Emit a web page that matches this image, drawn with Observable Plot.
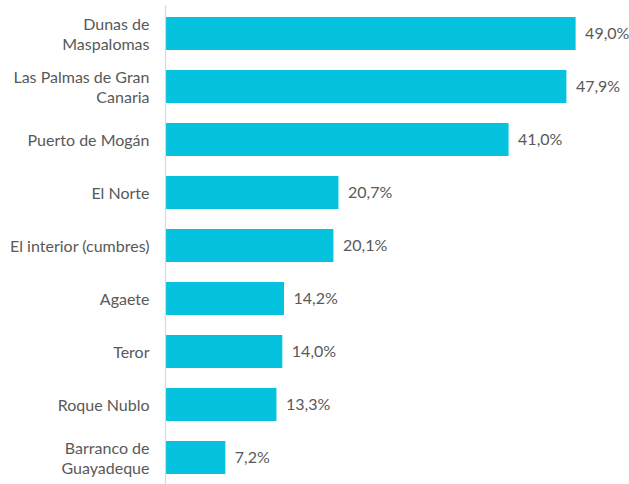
<!DOCTYPE html>
<html>
<head>
<meta charset="utf-8">
<script src="https://cdn.jsdelivr.net/npm/d3@7"></script>
<script src="https://cdn.jsdelivr.net/npm/@observablehq/plot@0.6"></script>
<style>
  html, body { margin: 0; padding: 0; background: #ffffff; }
  #chart svg { display: block; }
</style>
</head>
<body>
<div id="chart"></div>
<script>
const categories = [
  "Dunas de Maspalomas",
  "Las Palmas de Gran Canaria",
  "Puerto de Mogán",
  "El Norte",
  "El interior (cumbres)",
  "Agaete",
  "Teror",
  "Roque Nublo",
  "Barranco de Guayadeque"
];
const tickLabels = [
  "Dunas de\nMaspalomas",
  "Las Palmas de Gran\nCanaria",
  "Puerto de Mogán",
  "El Norte",
  "El interior (cumbres)",
  "Agaete",
  "Teror",
  "Roque Nublo",
  "Barranco de\nGuayadeque"
];
const values = [49.0, 47.9, 41.0, 20.7, 20.1, 14.2, 14.0, 13.3, 7.2];

const data = categories.map((name, i) => ({name, value: values[i]}));
const labelMap = new Map(categories.map((c, i) => [c, tickLabels[i]]));
const fmt = v => v.toFixed(1).replace(".", ",") + "%";

const chart = Plot.plot({
  width: 629,
  height: 484,
  marginLeft: 165,
  marginRight: 0,
  marginTop: 5,
  marginBottom: 0,
  style: {fontFamily: "Lato, 'Open Sans', sans-serif", fontSize: "16px", color: "#595959", background: "#ffffff"},
  x: {domain: [0, 55.37], axis: null},
  y: {domain: categories, range: [3.8, 488], paddingInner: 0.378, paddingOuter: 0.2, label: null, axis: null},
  marks: [
    Plot.barX(data, {x: "value", y: "name", fill: "#05C3DE"}),
    Plot.ruleX([0], {stroke: "#d9d9d9", strokeWidth: 1.2}),
    Plot.axisY({
      tickSize: 0,
      tickPadding: 16,
      tickFormat: d => labelMap.get(d),
      lineHeight: 1.25,
      fill: "#595959",
      fontSize: 16,
      label: null
    }),
    Plot.text(data, {
      x: "value", y: "name", text: d => fmt(d.value),
      textAnchor: "start", dx: 9, fill: "#595959", fontSize: 16
    })
  ]
});
document.getElementById("chart").appendChild(chart);
</script>
</body>
</html>
